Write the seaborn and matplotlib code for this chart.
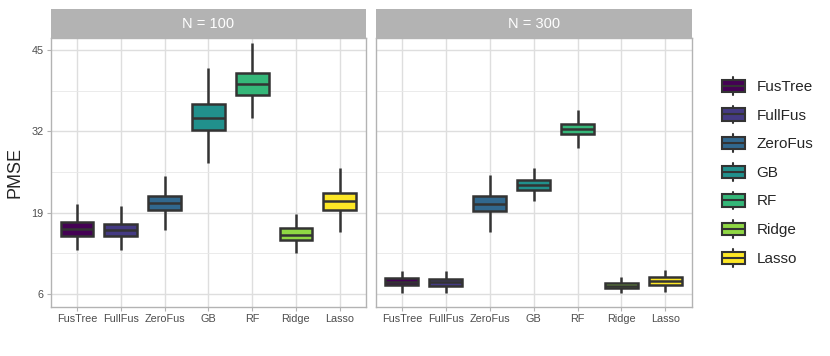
import matplotlib.pyplot as plt
import pandas as pd
import seaborn as sns
from matplotlib.legend_handler import HandlerBase
from matplotlib.patches import Patch, Rectangle
from matplotlib.lines import Line2D

methods = ["FusTree", "FullFus", "ZeroFus", "GB", "RF", "Ridge", "Lasso"]
panels = ["N = 100", "N = 300"]
colors = ["#440154", "#443A83", "#31688E", "#21908C", "#35B779", "#8FD744", "#FDE725"]

# five-number summaries (whisker low, q1, median, q3, whisker high)
n100_low = [13.0, 13.0, 16.2, 26.9, 34.2, 12.5, 15.9]
n100_q1 = [15.3, 15.2, 19.4, 32.2, 37.8, 14.6, 19.4]
n100_med = [16.4, 16.2, 20.5, 34.2, 39.5, 15.4, 20.8]
n100_q3 = [17.5, 17.2, 21.7, 36.3, 41.3, 16.5, 22.2]
n100_high = [20.4, 20.1, 24.9, 42.1, 46.1, 18.8, 26.1]

n300_low = [6.2, 6.1, 15.9, 20.9, 29.4, 6.1, 6.25]
n300_q1 = [7.4, 7.3, 19.3, 22.7, 31.5, 6.9, 7.45]
n300_med = [7.95, 7.85, 20.4, 23.5, 32.4, 7.3, 8.0]
n300_q3 = [8.5, 8.4, 21.7, 24.2, 33.2, 7.8, 8.65]
n300_high = [9.7, 9.6, 25.0, 26.1, 35.4, 8.75, 9.9]

y_ticks = [6, 19, 32, 45]
y_minor = [12.5, 25.5, 38.5]


def build(low, q1, med, q3, high):
    rows = []
    for i, m in enumerate(methods):
        for v in (low[i], q1[i], med[i], q3[i], high[i]):
            rows.append({"method": m, "PMSE": v})
    return pd.DataFrame(rows)


frames = [build(n100_low, n100_q1, n100_med, n100_q3, n100_high),
          build(n300_low, n300_q1, n300_med, n300_q3, n300_high)]

sns.set_theme(style="white")
plt.rcParams["font.family"] = ["Liberation Sans", "DejaVu Sans"]

fig = plt.figure(figsize=(8.3, 3.56), dpi=100)
W, H = 830, 356
bottom, top = 306.7, 38.3
ax1 = fig.add_axes([50.7 / W, 1 - bottom / H, (366 - 50.7) / W, (bottom - top) / H])
ax2 = fig.add_axes([375.5 / W, 1 - bottom / H, (691.7 - 375.5) / W, (bottom - top) / H])

edge = "#333333"
for ax, df, title in zip((ax1, ax2), frames, panels):
    sns.boxplot(data=df, x="method", y="PMSE", hue="method", order=methods,
                hue_order=methods, palette=colors, saturation=1, whis=(0, 100),
                width=0.75, linewidth=1.8, linecolor=edge, showcaps=False,
                legend=False, ax=ax, zorder=3)
    ax.set_xlim(-0.6, 6.6)
    ax.set_ylim(3.97, 46.87)
    ax.set_yticks(y_ticks)
    ax.set_yticks(y_minor, minor=True)
    ax.grid(True, which="major", color="#DEDEDE", linewidth=1.0, zorder=0)
    ax.grid(True, which="minor", axis="y", color="#E8E8E8", linewidth=0.6, zorder=0)
    ax.set_axisbelow(True)
    for s in ax.spines.values():
        s.set_color("#B3B3B3")
        s.set_linewidth(1.0)
    ax.tick_params(axis="both", which="major", length=3, width=0.8, color="#B3B3B3",
                   labelsize=7.8, labelcolor="#4D4D4D", pad=2, left=True, bottom=True)
    ax.tick_params(which="minor", length=0)
    ax.set_xlabel("")
    ax.set_ylabel("")
    # facet strip
    sh = 29 / (bottom - top)
    ax.add_patch(Rectangle((0, 1), 1, sh, transform=ax.transAxes, clip_on=False,
                           facecolor="#B3B3B3", edgecolor="none"))
    ax.text(0.5, 1 + sh / 2, title, transform=ax.transAxes, ha="center", va="center",
            color="white", fontsize=10.5)

ax1.set_ylabel("PMSE", fontsize=13, labelpad=6)
ax2.tick_params(axis="y", labelleft=False, left=False)


class BoxKey(HandlerBase):
    def create_artists(self, legend, orig, xd, yd, width, height, fontsize, trans):
        x0, y0 = -xd, -yd
        bh = height * 0.7
        by = y0 + (height - bh) / 2
        box = Rectangle((x0, by), width, bh, facecolor=orig.get_facecolor(),
                        edgecolor=edge, linewidth=1.5, transform=trans)
        med = Line2D([x0, x0 + width], [by + bh / 2] * 2, color=edge, lw=1.5, transform=trans)
        wt = Line2D([x0 + width / 2] * 2, [by + bh, y0 + height], color=edge, lw=1.5, transform=trans)
        wb = Line2D([x0 + width / 2] * 2, [y0, by], color=edge, lw=1.5, transform=trans)
        return [wt, wb, box, med]


handles = [Patch(facecolor=c) for c in colors]
fig.legend(handles, methods, handler_map={Patch: BoxKey()}, loc="upper left",
           bbox_to_anchor=(722 / W, 1 - 77 / H), frameon=False, fontsize=11,
           borderpad=0, borderaxespad=0, handlelength=1.5, handleheight=1.4,
           labelspacing=0.72, handletextpad=0.75)

fig.savefig("out.png", dpi=100)
